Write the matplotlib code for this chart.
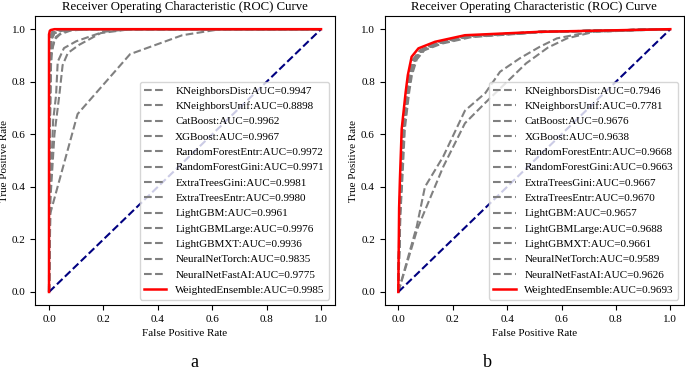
import matplotlib
matplotlib.use('Agg')
import matplotlib.pyplot as plt

plt.rcParams['font.family'] = ['Liberation Serif', 'DejaVu Serif']

models = ['KNeighborsDist', 'KNeighborsUnif', 'CatBoost', 'XGBoost', 'RandomForestEntr',
          'RandomForestGini', 'ExtraTreesGini', 'ExtraTreesEntr', 'LightGBM', 'LightGBMLarge',
          'LightGBMXT', 'NeuralNetTorch', 'NeuralNetFastAI', 'WeightedEnsemble']

auc_a = [0.9947, 0.8898, 0.9962, 0.9967, 0.9972, 0.9971, 0.9981, 0.9980, 0.9961, 0.9976,
         0.9936, 0.9835, 0.9775, 0.9985]
auc_b = [0.7946, 0.7781, 0.9676, 0.9638, 0.9668, 0.9663, 0.9667, 0.9670, 0.9657, 0.9688,
         0.9661, 0.9589, 0.9626, 0.9693]

# panel a: ROC points (fpr, tpr), same order as models
fpr_a = [
    [0, 0.002, 0.006, 0.012, 0.025, 0.05, 0.1, 1],
    [0, 0.005, 0.105, 0.298, 0.49, 0.63, 1],
    [0, 0.002, 0.005, 0.01, 0.02, 0.05, 0.1, 1],
    [0, 0.002, 0.004, 0.009, 0.018, 0.04, 0.09, 1],
    [0, 0.001, 0.004, 0.008, 0.015, 0.035, 0.08, 1],
    [0, 0.001, 0.004, 0.008, 0.016, 0.036, 0.08, 1],
    [0, 0.001, 0.003, 0.006, 0.012, 0.03, 0.06, 1],
    [0, 0.001, 0.003, 0.006, 0.013, 0.03, 0.06, 1],
    [0, 0.002, 0.005, 0.01, 0.02, 0.05, 0.1, 1],
    [0, 0.001, 0.004, 0.007, 0.014, 0.032, 0.07, 1],
    [0, 0.003, 0.008, 0.02, 0.04, 0.08, 0.15, 1],
    [0, 0.004, 0.015, 0.026, 0.032, 0.055, 0.1, 0.2, 0.3, 1],
    [0, 0.005, 0.02, 0.038, 0.05, 0.069, 0.11, 0.19, 0.3, 1],
    [0, 0.0, 0.003, 0.007, 0.02, 1],
]
tpr_a = [
    [0, 0.5, 0.85, 0.93, 0.97, 0.99, 1, 1],
    [0, 0.30, 0.677, 0.905, 0.977, 1.0, 1],
    [0, 0.6, 0.9, 0.965, 0.985, 0.995, 1, 1],
    [0, 0.6, 0.9, 0.968, 0.987, 0.996, 1, 1],
    [0, 0.6, 0.92, 0.97, 0.988, 0.997, 1, 1],
    [0, 0.6, 0.92, 0.97, 0.987, 0.997, 1, 1],
    [0, 0.6, 0.93, 0.975, 0.99, 0.998, 1, 1],
    [0, 0.6, 0.93, 0.975, 0.99, 0.997, 1, 1],
    [0, 0.6, 0.9, 0.962, 0.985, 0.995, 1, 1],
    [0, 0.6, 0.92, 0.972, 0.988, 0.997, 1, 1],
    [0, 0.6, 0.9, 0.96, 0.98, 0.995, 1, 1],
    [0, 0.35, 0.65, 0.75, 0.876, 0.928, 0.954, 0.99, 1, 1],
    [0, 0.35, 0.6, 0.75, 0.863, 0.909, 0.94, 0.985, 1, 1],
    [0, 0.98, 0.994, 0.997, 1.0, 1],
]

# panel b
fpr_b = [
    [0, 0.068, 0.098, 0.165, 0.245, 0.32, 0.374, 0.448, 0.52, 0.583, 0.706, 1],
    [0, 0.07, 0.098, 0.165, 0.245, 0.32, 0.40, 0.47, 0.55, 0.62, 0.72, 1],
    [0, 0.005, 0.01, 0.017, 0.032, 0.042, 0.058, 0.085, 0.145, 0.25, 0.52, 1],
    [0, 0.006, 0.012, 0.02, 0.036, 0.046, 0.063, 0.09, 0.15, 0.26, 0.54, 1],
    [0, 0.005, 0.01, 0.018, 0.033, 0.043, 0.06, 0.087, 0.147, 0.25, 0.52, 1],
    [0, 0.005, 0.011, 0.019, 0.034, 0.044, 0.061, 0.088, 0.148, 0.255, 0.53, 1],
    [0, 0.005, 0.01, 0.018, 0.033, 0.043, 0.06, 0.087, 0.147, 0.25, 0.52, 1],
    [0, 0.005, 0.01, 0.017, 0.032, 0.042, 0.059, 0.086, 0.146, 0.25, 0.52, 1],
    [0, 0.006, 0.011, 0.019, 0.035, 0.045, 0.062, 0.089, 0.15, 0.26, 0.53, 1],
    [0, 0.004, 0.008, 0.015, 0.03, 0.039, 0.054, 0.08, 0.14, 0.25, 0.52, 1],
    [0, 0.005, 0.011, 0.018, 0.034, 0.044, 0.061, 0.088, 0.148, 0.255, 0.53, 1],
    [0, 0.008, 0.015, 0.024, 0.04, 0.05, 0.068, 0.096, 0.16, 0.27, 0.55, 1],
    [0, 0.007, 0.013, 0.021, 0.037, 0.047, 0.064, 0.092, 0.153, 0.26, 0.54, 1],
    [0, 0.003, 0.006, 0.0125, 0.027, 0.035, 0.049, 0.074, 0.135, 0.245, 0.52, 1],
]
tpr_b = [
    [0, 0.25, 0.40, 0.515, 0.69, 0.757, 0.838, 0.89, 0.933, 0.965, 0.99, 1],
    [0, 0.24, 0.31, 0.476, 0.642, 0.72, 0.80, 0.87, 0.93, 0.965, 0.99, 1],
    [0, 0.3, 0.43, 0.62, 0.76, 0.825, 0.885, 0.92, 0.948, 0.973, 0.99, 1],
    [0, 0.3, 0.43, 0.62, 0.76, 0.825, 0.885, 0.92, 0.947, 0.972, 0.99, 1],
    [0, 0.3, 0.43, 0.62, 0.76, 0.825, 0.885, 0.92, 0.948, 0.973, 0.99, 1],
    [0, 0.3, 0.43, 0.62, 0.76, 0.825, 0.885, 0.92, 0.948, 0.973, 0.99, 1],
    [0, 0.3, 0.43, 0.62, 0.76, 0.825, 0.885, 0.92, 0.948, 0.973, 0.99, 1],
    [0, 0.3, 0.43, 0.62, 0.76, 0.825, 0.885, 0.92, 0.948, 0.973, 0.99, 1],
    [0, 0.3, 0.43, 0.62, 0.76, 0.825, 0.885, 0.92, 0.947, 0.972, 0.99, 1],
    [0, 0.3, 0.43, 0.62, 0.76, 0.825, 0.885, 0.92, 0.95, 0.975, 0.99, 1],
    [0, 0.3, 0.43, 0.62, 0.76, 0.825, 0.885, 0.92, 0.948, 0.973, 0.99, 1],
    [0, 0.3, 0.43, 0.62, 0.76, 0.825, 0.885, 0.92, 0.945, 0.97, 0.99, 1],
    [0, 0.3, 0.43, 0.62, 0.76, 0.825, 0.885, 0.92, 0.946, 0.971, 0.99, 1],
    [0, 0.32, 0.43, 0.62, 0.76, 0.825, 0.895, 0.927, 0.952, 0.977, 0.99, 1],
]

panel_letters = ['a', 'b']


def draw_panel(ax, fprs, tprs, aucs):
    for i, name in enumerate(models):
        label = '{}:AUC={:.4f}'.format(name, aucs[i])
        if name == 'WeightedEnsemble':
            ax.plot(fprs[i], tprs[i], color='red', lw=1.8, label=label, zorder=3)
        else:
            ax.plot(fprs[i], tprs[i], color='gray', lw=1.5, ls='--', label=label)
    ax.plot([0, 1], [0, 1], color='navy', lw=1.5, ls='--')
    ax.set_title('Receiver Operating Characteristic (ROC) Curve', fontsize=9.2, pad=4)
    ax.set_xlabel('False Positive Rate', fontsize=8)
    ax.set_ylabel('True Positive Rate', fontsize=8, labelpad=2)
    ax.tick_params(labelsize=8)
    ax.legend(loc='lower right', fontsize=8, labelspacing=0.5)


fig = plt.figure(figsize=(6.85, 3.73), dpi=100)
ax1 = fig.add_axes([0.0517, 0.182, 0.4368, 0.775])
ax2 = fig.add_axes([0.5616, 0.182, 0.4368, 0.775])
draw_panel(ax1, fpr_a, tpr_a, auc_a)
draw_panel(ax2, fpr_b, tpr_b, auc_b)
fig.text(0.284, 0.006, panel_letters[0], fontsize=13, ha='center', va='bottom')
fig.text(0.711, 0.006, panel_letters[1], fontsize=13, ha='center', va='bottom')
fig.savefig('out.png', dpi=100)
